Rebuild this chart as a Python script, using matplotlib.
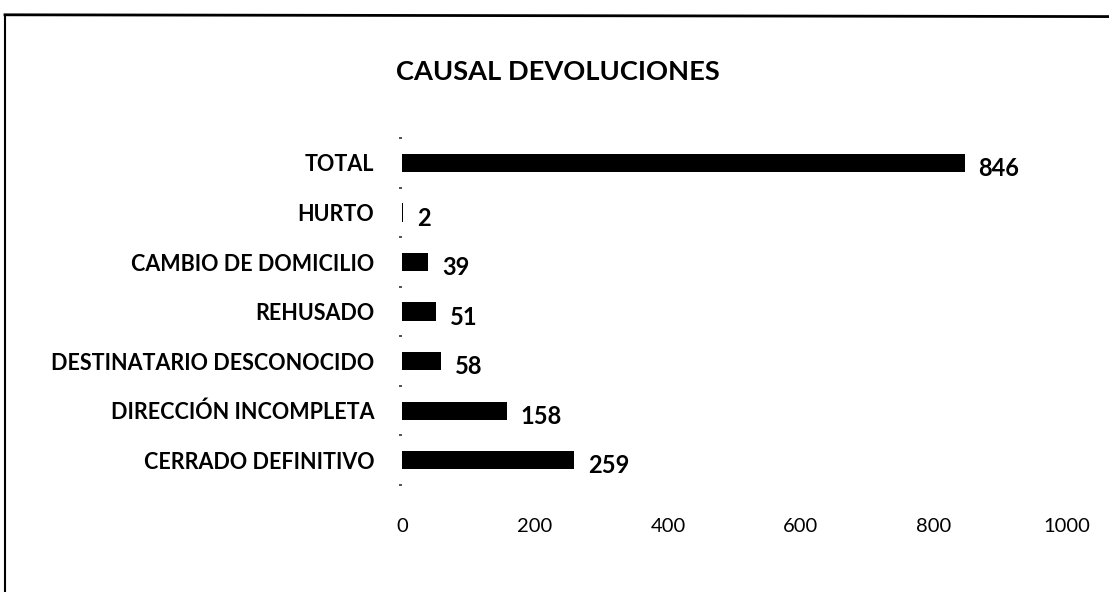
import matplotlib
matplotlib.use("Agg")
import matplotlib.pyplot as plt
from matplotlib.lines import Line2D
import numpy as np

causas = ["CERRADO DEFINITIVO", "DIRECCIÓN INCOMPLETA", "DESTINATARIO DESCONOCIDO",
          "REHUSADO", "CAMBIO DE DOMICILIO", "HURTO", "TOTAL"]
cantidades = [259, 158, 58, 51, 39, 2, 846]
xticks = [0, 200, 400, 600, 800, 1000]

plt.rcParams['font.family'] = ['Lato', 'DejaVu Sans']

fig = plt.figure(figsize=(11.09, 5.92), dpi=100)
ax = fig.add_axes([0.3625, 0.1807, 0.5996, 0.586])

y = np.arange(len(causas))
ax.barh(y, cantidades, height=0.37, color="black")

for yi, v in zip(y, cantidades):
    ax.annotate(str(v), (v, yi), xytext=(10, -4), textcoords="offset points",
                ha="left", va="center", fontsize=17, fontweight="bold")

ax.set_xlim(0, 1000)
ax.set_ylim(-0.5, len(causas) - 0.5)
ax.set_xticks(xticks)
ax.set_xticklabels([str(t) for t in xticks], fontsize=14.5)
ax.set_yticks(y)
ax.set_yticklabels(causas, fontsize=15.5, fontweight="bold")
ax.tick_params(axis="y", length=0, pad=20)
ax.tick_params(axis="x", length=0, pad=24)

# marcas pequeñas entre categorías sobre el eje
ax.set_yticks(np.arange(-0.5, len(causas)), minor=True)
ax.tick_params(axis="y", which="minor", length=2, width=1.2, color="#333333", direction="out")

for s in ["top", "right", "bottom", "left"]:
    ax.spines[s].set_visible(False)

fig.text(0.503, 0.878, "CAUSAL DEVOLUCIONES", ha="center", va="center",
         fontsize=19.6, fontweight="bold")

# marco del gráfico
fig.add_artist(Line2D([0.0045, 1.0], [0.975, 0.972], color="black", lw=2))
fig.add_artist(Line2D([0.0045, 0.0045], [0.975, 0.0], color="black", lw=1.5))

fig.savefig("out.png", dpi=100, facecolor="white")
